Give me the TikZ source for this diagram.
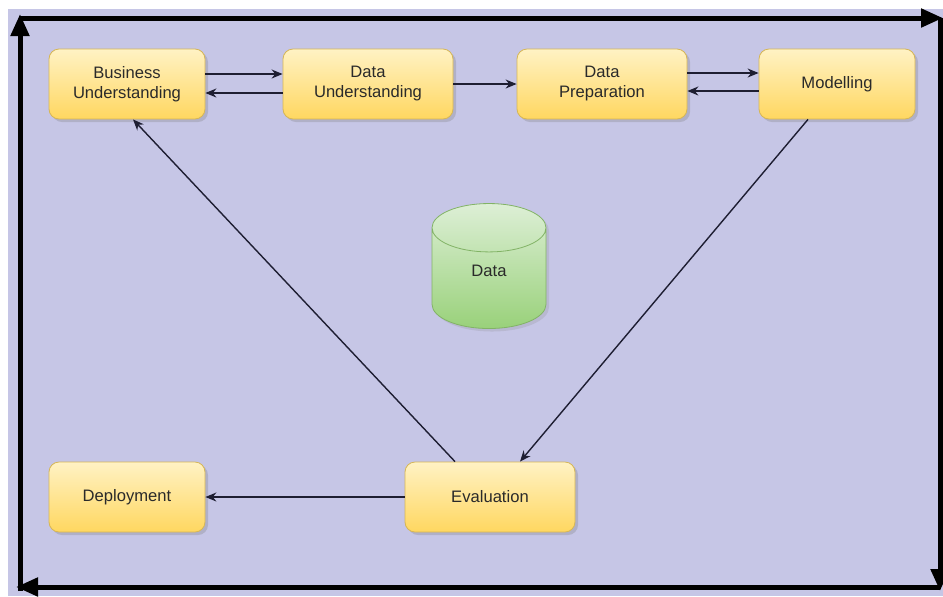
\documentclass[tikz,border=0pt]{standalone}
\usepackage{fontspec}
\setmainfont{Liberation Sans}
\usepackage{tikz}
\usetikzlibrary{arrows.meta,shapes.geometric,shadows}
\definecolor{lavender}{HTML}{C6C6E6}
\definecolor{ytop}{HTML}{FFF2C4}
\definecolor{ybot}{HTML}{FFD760}
\definecolor{yline}{HTML}{D6B656}
\definecolor{gtop}{HTML}{DDEFD6}
\definecolor{gbot}{HTML}{99D17A}
\definecolor{gline}{HTML}{82B366}
\definecolor{ink}{HTML}{2A2A2A}
\definecolor{wire}{HTML}{1E1E32}

\begin{document}
\begin{tikzpicture}[
  x=0.5pt,y=-0.5pt,
  font=\fontsize{8.3}{10}\selectfont,
  box/.style={draw=yline,top color=ytop,bottom color=ybot,rounded corners=5pt,minimum width=78pt,minimum height=35pt,align=center,text=ink,drop shadow={shadow xshift=1.5pt,shadow yshift=-1.5pt,opacity=0.3}},
  wide/.style={box,minimum width=85pt},
  db/.style={cylinder,shape border rotate=90,aspect=1,draw=gline,top color=gtop,bottom color=gbot,minimum width=57pt,minimum height=62.5pt,text=ink,text height=6pt,text depth=14pt,drop shadow={shadow xshift=1.5pt,shadow yshift=-1.5pt,opacity=0.2}},
  arr/.style={-{Stealth[length=5.5pt,width=4.5pt]},line width=0.7pt,draw=wire},
  loop/.style={-{Triangle[length=11pt,width=9pt]},line width=2.5pt,draw=black}
]
\useasboundingbox (0,0) rectangle (943,596);
\fill[lavender] (8,9) rectangle (943,596);
% outer cycle
\coordinate (nw) at (20,18);
\coordinate (ne) at (940,18);
\coordinate (se) at (940,587);
\coordinate (sw) at (20,587);
\draw[loop] (nw) -- ([xshift=1.5pt]ne);
\draw[loop] (ne) -- ([yshift=-2pt]se);
\draw[loop] (se) -- ([xshift=-2pt]sw);
\draw[loop] ([yshift=-2pt]sw) -- ([yshift=2pt]nw);
% phases
\node[box] (bu) at (127,84) {Business\\Understanding};
\node[wide] (du) at (368,84) {Data\\Understanding};
\node[wide] (dp) at (602,84) {Data\\Preparation};
\node[box] (mo) at (837,84) {Modelling};
\node[db] (data) at (489,284) {Data};
\node[box] (dep) at (127,497) {Deployment};
\node[wide] (ev) at (490,497) {Evaluation};
% flow
\draw[arr] ([yshift=5pt]bu.east) -- ([yshift=5pt]du.west);
\draw[arr] ([yshift=-4.5pt]du.west) -- ([yshift=-4.5pt]bu.east);
\draw[arr] (du) -- (dp);
\draw[arr] ([yshift=5.5pt]dp.east) -- ([yshift=5.5pt]mo.west);
\draw[arr] ([yshift=-3.5pt]mo.west) -- ([yshift=-3.5pt]dp.east);
\draw[arr] ([xshift=-14.5pt]mo.south) -- ([xshift=15pt]ev.north);
\draw[arr] ([xshift=-17.5pt]ev.north) -- ([xshift=3pt]bu.south);
\draw[arr] (ev) -- (dep);
\end{tikzpicture}
\end{document}
